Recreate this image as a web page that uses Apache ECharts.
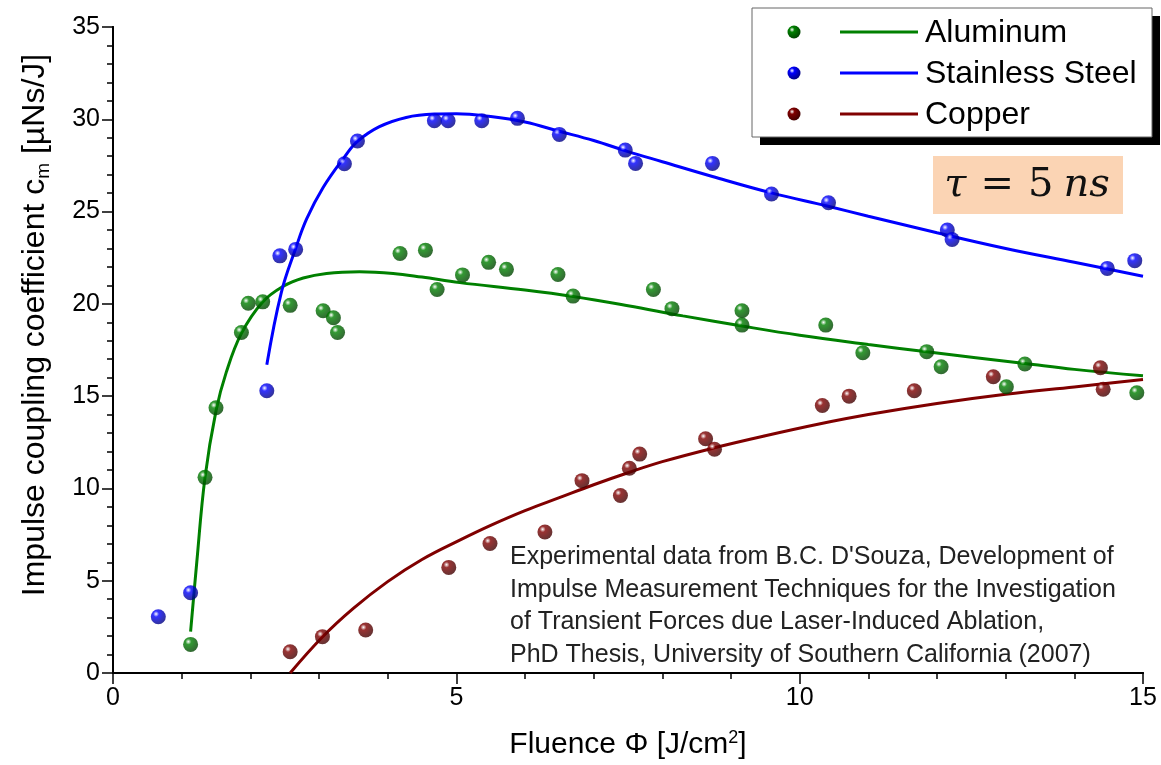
<!DOCTYPE html>
<html>
<head>
<meta charset="utf-8">
<script src="https://cdn.jsdelivr.net/npm/echarts@6/dist/echarts.min.js"></script>
<style>
  html, body { margin: 0; padding: 0; background: #fff; }
  #chart { width: 1161px; height: 765px; }
</style>
</head>
<body>
<div id="chart"></div>
<script>
// measured points [fluence, cm]
const aluminumPoints = [[1.13,1.55],[1.34,10.6],[1.50,14.37],[1.87,18.45],[1.97,20.03],[2.18,20.11],[2.58,19.92],[3.06,19.63],[3.21,19.25],[3.27,18.45],[4.18,22.73],[4.55,22.91],[4.72,20.78],[5.09,21.57],[5.47,22.25],[5.73,21.87],[6.48,21.59],[6.70,20.42],[7.87,20.78],[8.14,19.74],[9.16,19.63],[9.16,18.85],[10.38,18.85],[10.92,17.35],[11.85,17.41],[12.06,16.59],[13.01,15.51],[13.28,16.74],[14.91,15.18]];
const steelPoints = [[0.66,3.05],[1.13,4.35],[2.24,15.29],[2.43,22.6],[2.66,22.95],[3.37,27.59],[3.56,28.82],[4.68,29.92],[4.88,29.92],[5.37,29.92],[5.89,30.05],[6.50,29.18],[7.46,28.33],[7.61,27.61],[8.73,27.61],[9.59,25.95],[10.42,25.48],[12.15,24.0],[12.22,23.49],[14.48,21.92],[14.88,22.34]];
const copperPoints = [[2.58,1.15],[3.05,1.97],[3.68,2.33],[4.89,5.72],[5.49,7.02],[6.29,7.64],[6.83,10.42],[7.39,9.62],[7.52,11.09],[7.67,11.86],[8.63,12.69],[8.76,12.12],[10.33,14.49],[10.72,15.0],[11.67,15.29],[12.82,16.05],[14.38,16.54],[14.42,15.37]];

// fitted curves
const aluminumFit = [[1.13,2.24],[1.22,6.0],[1.34,10.6],[1.50,14.2],[1.65,16.3],[1.87,18.4],[2.18,20.1],[2.48,20.95],[2.77,21.4],[3.11,21.65],[3.59,21.74],[4.08,21.65],[4.5,21.45],[5.05,21.15],[6.0,20.75],[6.7,20.4],[7.5,19.9],[8.3,19.35],[9.16,18.8],[10.0,18.3],[11.0,17.8],[11.85,17.4],[13.28,16.77],[14.0,16.45],[15.0,16.1]];
const steelFit = [[2.24,16.7],[2.45,20.6],[2.66,23.0],[2.82,24.6],[3.06,26.3],[3.36,27.9],[3.56,28.8],[3.88,29.6],[4.27,30.1],[4.68,30.28],[5.0,30.3],[5.5,30.15],[6.0,29.85],[6.5,29.35],[7.0,28.85],[7.5,28.25],[8.0,27.7],[8.73,26.9],[9.6,26.0],[10.4,25.3],[11.0,24.75],[12.0,23.85],[13.0,23.0],[14.0,22.25],[15.0,21.5]];
const copperFit = [[2.58,0],[3.05,1.95],[3.5,3.5],[4.0,4.95],[4.5,6.15],[5.05,7.2],[5.5,8.0],[6.0,8.8],[6.5,9.5],[7.0,10.2],[7.5,10.85],[8.0,11.45],[8.76,12.2],[9.5,12.85],[10.3,13.5],[11.0,14.0],[12.0,14.6],[13.0,15.1],[14.0,15.5],[15.0,15.9]];

const materials = ['Aluminum', 'Stainless Steel', 'Copper'];
const baseColors = ['#008000', '#0000ff', '#800000'];
const darkColors = ['#004400', '#000080', '#400000'];
const xTicks = [0, 5, 10, 15];
const yTicks = [0, 5, 10, 15, 20, 25, 30, 35];
const noteLines = [
  'Experimental data from B.C. D\'Souza, Development of',
  'Impulse Measurement Techniques for the Investigation',
  'of Transient Forces due Laser-Induced Ablation,',
  'PhD Thesis, University of Southern California (2007)'
];

const FONT = "'Liberation Sans', Arial, sans-serif";
const SERIF = "'DejaVu Serif', 'Liberation Serif', serif";

const sphere = (i) => ({
  type: 'radial', x: 0.35, y: 0.32, r: 0.7,
  colorStops: [
    { offset: 0, color: '#ffffff' },
    { offset: 0.28, color: baseColors[i] },
    { offset: 1, color: darkColors[i] }
  ]
});

const pointSets = [aluminumPoints, steelPoints, copperPoints];
const fitSets = [aluminumFit, steelFit, copperFit];

const series = [];
fitSets.forEach((d, i) => {
  series.push({
    name: materials[i] + ' fit',
    type: 'line',
    data: d,
    smooth: 0.4,
    showSymbol: false,
    lineStyle: { color: baseColors[i], width: 3 },
    z: 2
  });
});
pointSets.forEach((d, i) => {
  series.push({
    name: materials[i],
    type: 'scatter',
    data: d,
    symbolSize: 15,
    itemStyle: { color: sphere(i) },
    z: 3
  });
});

// legend drawn by hand: dot, line, text
const legendGraphics = [
  { type: 'rect', shape: { x: 760, y: 16, width: 400, height: 129 }, style: { fill: '#000' }, z: 10 },
  { type: 'rect', shape: { x: 752, y: 8, width: 400, height: 129 }, style: { fill: '#fff', stroke: '#666', lineWidth: 1 }, z: 11 }
];
materials.forEach((name, i) => {
  const cy = 32 + i * 41;
  legendGraphics.push(
    { type: 'circle', shape: { cx: 794, cy: cy, r: 6.5 }, style: { fill: sphere(i) }, z: 12 },
    { type: 'line', shape: { x1: 840, y1: cy, x2: 918, y2: cy }, style: { stroke: baseColors[i], lineWidth: 3 }, z: 12 },
    { type: 'text', x: 925, y: cy + 1, style: { text: name, font: '32px ' + FONT, fill: '#000', verticalAlign: 'middle' }, z: 12 }
  );
});

const chart = echarts.init(document.getElementById('chart'));
chart.setOption({
  animation: false,
  grid: { left: 113, right: 18, top: 27, bottom: 92 },
  xAxis: [{
    type: 'value', min: 0, max: 15, interval: 5,
    name: '{n|Fluence Φ [J/cm}{s|2}{n|]}',
    nameLocation: 'middle', nameGap: 56,
    nameTextStyle: { rich: { n: { fontSize: 30, fontFamily: FONT, color: '#000' }, s: { fontSize: 18, fontFamily: FONT, color: '#000', verticalAlign: 'top', padding: [0, 0, 14, 0] } } },
    axisLine: { onZero: false, lineStyle: { color: '#000', width: 2 } },
    axisTick: { length: 10, lineStyle: { color: '#000', width: 1.5 } },
    minorTick: { show: true, splitNumber: 5, length: 6, lineStyle: { color: '#000', width: 1.5 } },
    axisLabel: { fontSize: 25, fontFamily: FONT, color: '#000', margin: 13, formatter: v => xTicks.includes(v) ? String(v) : '' },
    splitLine: { show: false }
  }, {
    type: 'value', min: 0, max: 15, interval: 5, position: 'top',
    axisLine: { lineStyle: { color: '#000', width: 2 } },
    axisTick: { inside: true, length: 11, lineStyle: { color: '#000', width: 1.5 } },
    minorTick: { show: true, splitNumber: 5, length: 6, lineStyle: { color: '#000', width: 1.5 } },
    axisLabel: { show: false },
    splitLine: { show: false }
  }],
  yAxis: [{
    type: 'value', min: 0, max: 35, interval: 5,
    name: '{n|Impulse coupling coefficient c}{s|m}{n| [µNs/J]}',
    nameLocation: 'middle', nameGap: 60, nameRotate: 90,
    nameTextStyle: {
      padding: [0, 0, 0, 50],
      rich: { n: { fontSize: 32, fontFamily: FONT, color: '#000' }, s: { fontSize: 19, fontFamily: FONT, color: '#000', padding: [16, 0, 0, 0] } }
    },
    axisLine: { onZero: false, lineStyle: { color: '#000', width: 2 } },
    axisTick: { length: 10, lineStyle: { color: '#000', width: 1.5 } },
    minorTick: { show: true, splitNumber: 5, length: 6, lineStyle: { color: '#000', width: 1.5 } },
    axisLabel: { fontSize: 25, fontFamily: FONT, color: '#000', margin: 13, formatter: v => yTicks.includes(v) ? String(v) : '' },
    splitLine: { show: false }
  }, {
    type: 'value', min: 0, max: 35, interval: 5, position: 'right',
    axisLine: { lineStyle: { color: '#000', width: 2 } },
    axisTick: { inside: true, length: 11, lineStyle: { color: '#000', width: 1.5 } },
    minorTick: { show: true, splitNumber: 5, length: 6, lineStyle: { color: '#000', width: 1.5 } },
    axisLabel: { show: false },
    splitLine: { show: false }
  }],
  series: series,
  graphic: legendGraphics.concat([
    { type: 'rect', shape: { x: 933, y: 156, width: 190, height: 58 }, style: { fill: '#fbd4b4' }, z: 9 },
    {
      type: 'text', x: 1027, y: 186, z: 10,
      style: {
        text: '{a|τ}{b|=}{c|5}{i|ns}',
        align: 'center', verticalAlign: 'middle',
        rich: {
          a: { fontSize: 40, fontFamily: SERIF, fontStyle: 'italic', fill: '#111', padding: [0, 14, 0, 0] },
          b: { fontSize: 40, fontFamily: SERIF, fill: '#111', padding: [0, 14, 0, 0] },
          c: { fontSize: 40, fontFamily: SERIF, fill: '#111', padding: [0, 10, 0, 0] },
          i: { fontSize: 40, fontFamily: SERIF, fontStyle: 'italic', fill: '#111' }
        }
      }
    },
    {
      type: 'text', x: 510, y: 541, z: 10,
      style: { text: noteLines.join('\n'), font: '25px ' + FONT, lineHeight: 32.5, fill: '#222', verticalAlign: 'top' }
    }
  ])
});
</script>
</body>
</html>
